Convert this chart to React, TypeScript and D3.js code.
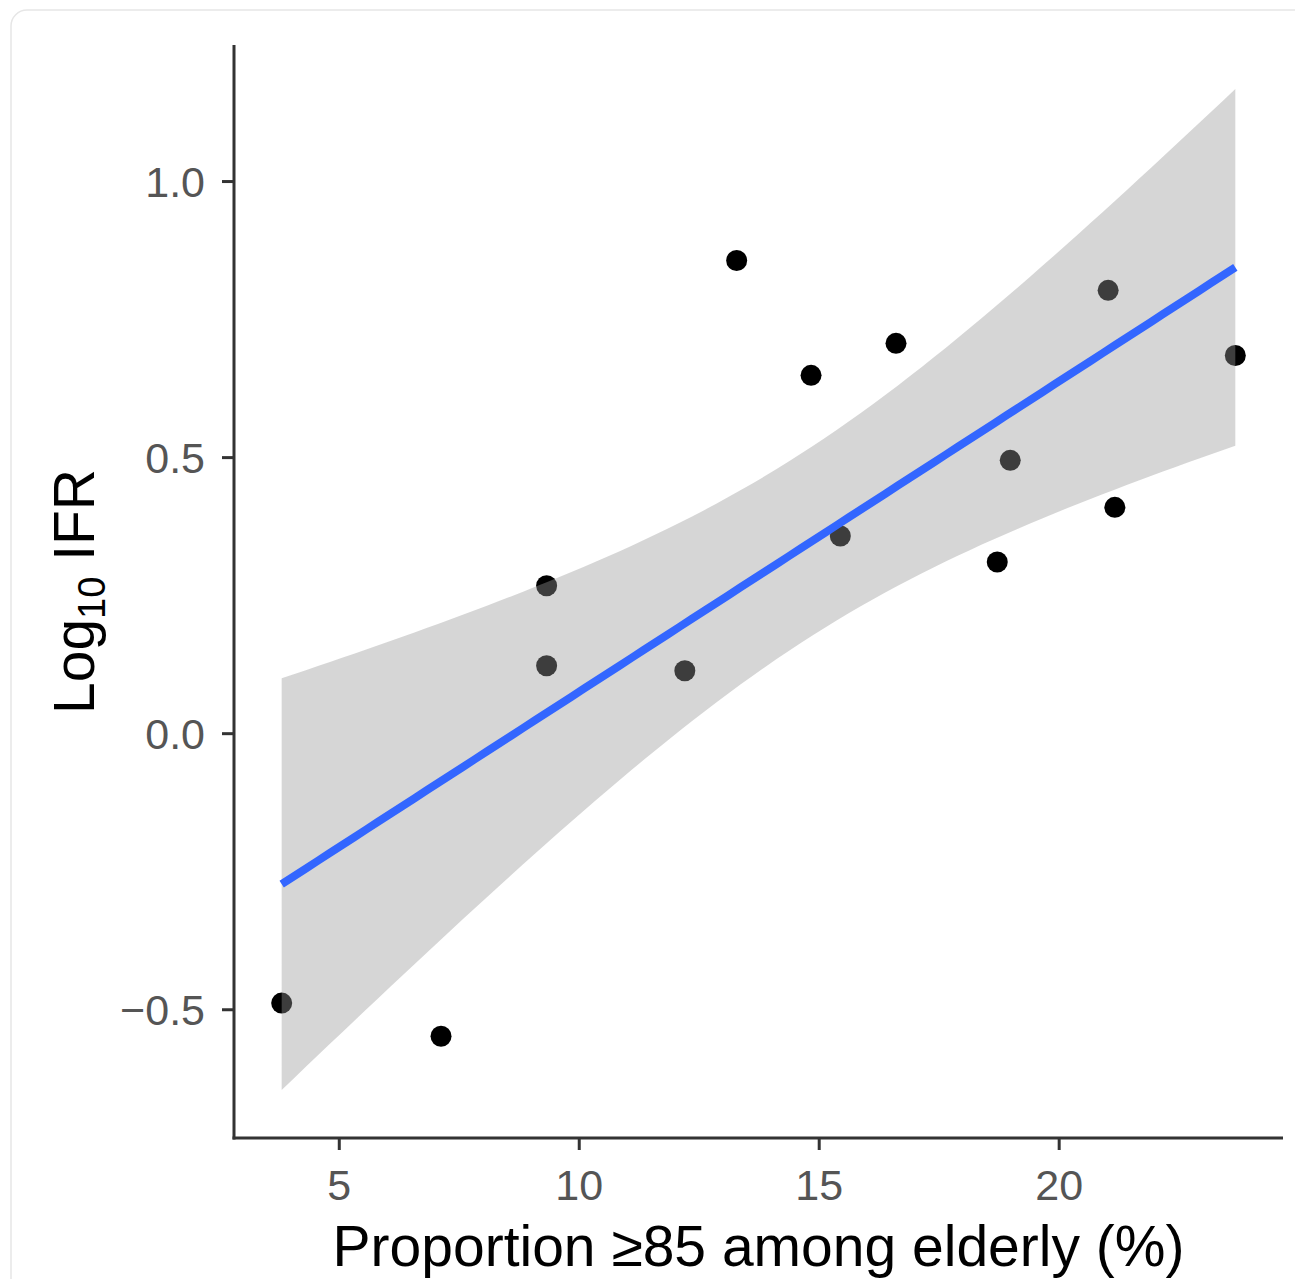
import React from "react";
import * as d3 from "d3";

// proportion >=85 among elderly (%)
const propOld = [3.8, 7.12, 9.32, 9.32, 12.2, 13.28, 14.83, 15.44, 16.6, 18.71, 18.98, 21.02, 21.16, 23.67];
// log10 IFR
const logIfr = [-0.488, -0.548, 0.268, 0.123, 0.114, 0.857, 0.649, 0.358, 0.707, 0.311, 0.495, 0.803, 0.41, 0.685];

const xTicks = [5, 10, 15, 20];
const yTicks = [-0.5, 0.0, 0.5, 1.0];

// t quantile 0.975, df = 12
const T_CRIT = 2.179;

const W = 1295;
const H = 1279;
const left = 234;
const right = 1283;
const top = 45;
const bottom = 1138;

const fitLm = (xs, ys) => {
  const n = xs.length;
  const mx = d3.mean(xs);
  const my = d3.mean(ys);
  const sxx = d3.sum(xs, x => (x - mx) ** 2);
  const sxy = d3.sum(xs, (x, i) => (x - mx) * (ys[i] - my));
  const b = sxy / sxx;
  const a = my - b * mx;
  const sse = d3.sum(xs, (x, i) => (ys[i] - (a + b * x)) ** 2);
  const s = Math.sqrt(sse / (n - 2));
  return { a, b, s, n, mx, sxx };
};

const App = () => {
  const fit = fitLm(propOld, logIfr);
  const [x0, x1] = d3.extent(propOld);
  const grid = d3.range(80).map(i => x0 + (i * (x1 - x0)) / 79);
  const smooth = grid.map(x => {
    const yhat = fit.a + fit.b * x;
    const se = fit.s * Math.sqrt(1 / fit.n + (x - fit.mx) ** 2 / fit.sxx);
    return { x, y: yhat, lo: yhat - T_CRIT * se, hi: yhat + T_CRIT * se };
  });

  const xr = x1 - x0;
  const yMin = Math.min(d3.min(logIfr), d3.min(smooth, d => d.lo));
  const yMax = Math.max(d3.max(logIfr), d3.max(smooth, d => d.hi));
  const yr = yMax - yMin;

  const x = d3.scaleLinear().domain([x0 - 0.05 * xr, x1 + 0.05 * xr]).range([left, right]);
  // ref panel is slightly taller than the 5% expansion gives
  const y = d3.scaleLinear().domain([yMin - 0.05 * yr, yMax + 0.05 * yr]).range([bottom + 2, top - 6]);

  const ribbon = d3.area().x(d => x(d.x)).y0(d => y(d.lo)).y1(d => y(d.hi));
  const line = d3.line().x(d => x(d.x)).y(d => y(d.y));

  const font = "Liberation Sans, Arial, sans-serif";

  return (
    <svg width={W} height={H} style={{ position: "absolute", left: 0, top: 0 }} fontFamily={font}>
      <rect x={0} y={0} width={W} height={H} fill="white" />
      <rect x={11} y={10} width={W + 20} height={H + 20} rx={16} fill="white" stroke="#e6e6e6" strokeWidth={1.5} />

      {propOld.map((v, i) => (
        <circle key={i} cx={x(v)} cy={y(logIfr[i])} r={10.5} fill="black" />
      ))}
      <path d={ribbon(smooth)} fill="#999999" fillOpacity={0.4} />
      <path d={line(smooth)} fill="none" stroke="#3366FF" strokeWidth={8} />

      {/* axes */}
      <line x1={left} x2={left} y1={top} y2={bottom + 1.5} stroke="#333" strokeWidth={3} />
      <line x1={left - 1.5} x2={right} y1={bottom} y2={bottom} stroke="#333" strokeWidth={3} />
      {yTicks.map(t => (
        <g key={t} transform={`translate(0,${y(t)})`}>
          <line x1={left - 12} x2={left} stroke="#333" strokeWidth={3} />
          <text x={left - 29} dy="0.36em" textAnchor="end" fontSize={43} fill="#555">
            {t === 0 ? "0.0" : t < 0 ? "\u2212" + Math.abs(t).toFixed(1) : t.toFixed(1)}
          </text>
        </g>
      ))}
      {xTicks.map(t => (
        <g key={t} transform={`translate(${x(t)},0)`}>
          <line y1={bottom} y2={bottom + 12} stroke="#333" strokeWidth={3} />
          <text y={bottom + 62} textAnchor="middle" fontSize={43} fill="#555">{t}</text>
        </g>
      ))}

      <text x={(left + right) / 2} y={1266} textAnchor="middle" fontSize={57} fill="black">
        Proportion ≥85 among elderly (%)
      </text>
      <text transform={`translate(94,${(top + bottom) / 2}) rotate(-90)`} textAnchor="middle" fontSize={57} fill="black">
        Log<tspan fontSize={38} dy={11}>10</tspan><tspan dy={-11}> IFR</tspan>
      </text>
    </svg>
  );
};

export default App;
